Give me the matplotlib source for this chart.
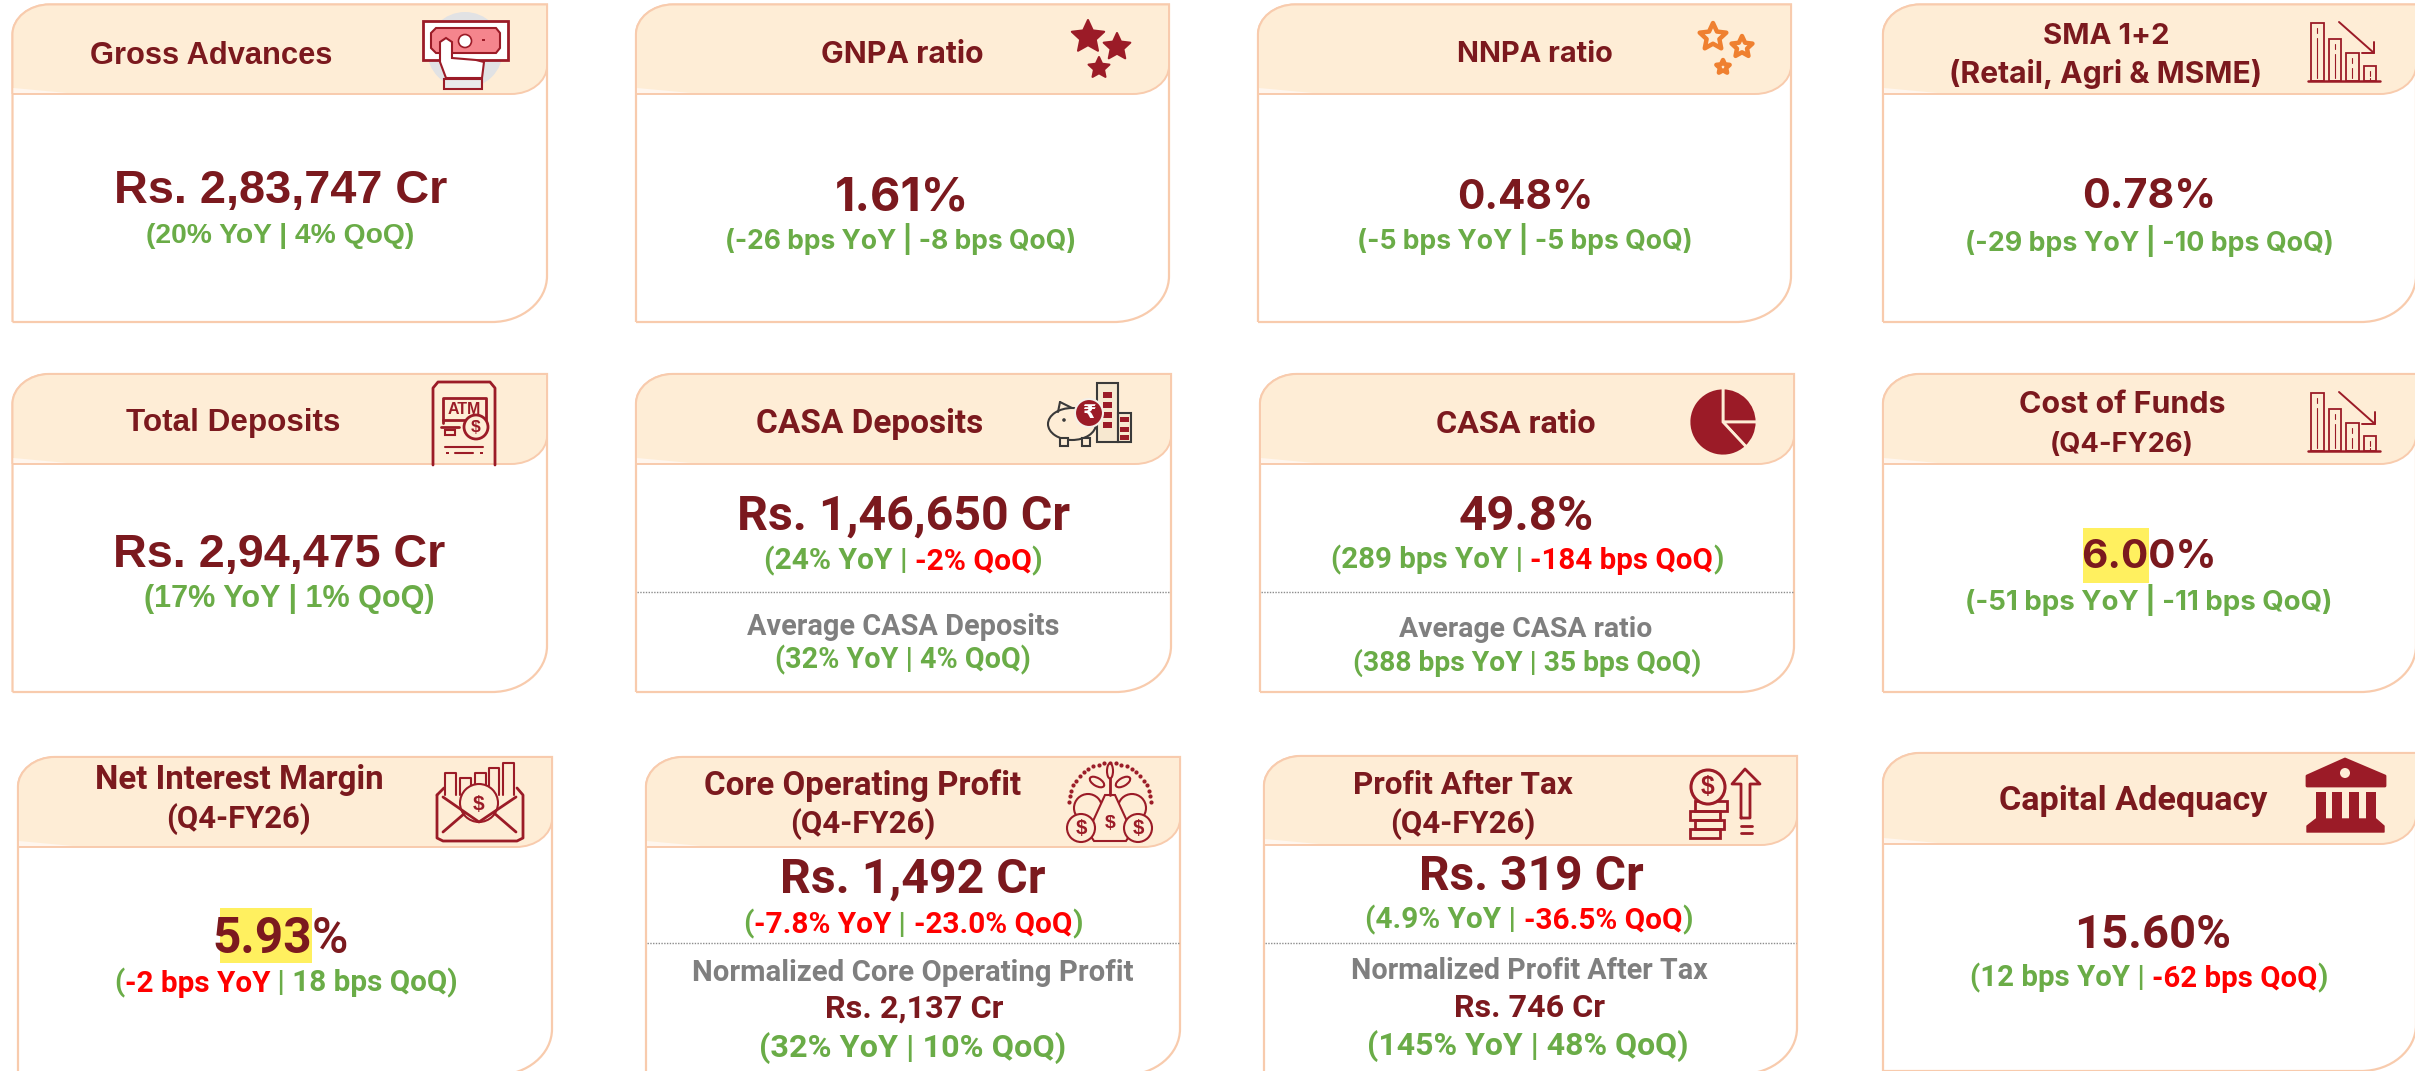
import re
import numpy as np
import matplotlib
matplotlib.use("Agg")
import matplotlib.pyplot as plt
from matplotlib.patches import Circle, Ellipse, PathPatch, Polygon, Rectangle, Wedge
from matplotlib.path import Path

# --- DATA ---

titles = [
    ["Gross Advances"], ["GNPA ratio"], ["NNPA ratio"], ["SMA 1+2", "(Retail, Agri & MSME)"],
    ["Total Deposits"], ["CASA Deposits"], ["CASA ratio"], ["Cost of Funds", "(Q4-FY26)"],
    ["Net Interest Margin", "(Q4-FY26)"], ["Core Operating Profit", "(Q4-FY26)"],
    ["Profit After Tax", "(Q4-FY26)"], ["Capital Adequacy"],
]
values = [
    "Rs. 2,83,747 Cr", "1.61%", "0.48%", "0.78%",
    "Rs. 2,94,475 Cr", "Rs. 1,46,650 Cr", "49.8%", "6.00%",
    "5.93%", "Rs. 1,492 Cr", "Rs. 319 Cr", "15.60%",
]
changes = [
    "(20% YoY | 4% QoQ)", "(-26 bps YoY | -8 bps QoQ)", "(-5 bps YoY | -5 bps QoQ)", "(-29 bps YoY | -10 bps QoQ)",
    "(17% YoY | 1% QoQ)", "(24% YoY | -2% QoQ)", "(289 bps YoY | -184 bps QoQ)", "(-51 bps YoY | -11 bps QoQ)",
    "(-2 bps YoY | 18 bps QoQ)", "(-7.8% YoY | -23.0% QoQ)", "(4.9% YoY | -36.5% QoQ)", "(12 bps YoY | -62 bps QoQ)",
]
adverse = [
    [], [], [], [],
    [], ["-2% QoQ"], ["-184 bps QoQ"], [],
    ["-2 bps YoY"], ["-7.8% YoY", "-23.0% QoQ"], ["-36.5% QoQ"], ["-62 bps QoQ"],
]
second_labels = {5: "Average CASA Deposits", 6: "Average CASA ratio",
                 9: "Normalized Core Operating Profit", 10: "Normalized Profit After Tax"}
second_values = {9: "Rs. 2,137 Cr", 10: "Rs. 746 Cr"}
second_changes = {5: "(32% YoY | 4% QoQ)", 6: "(388 bps YoY | 35 bps QoQ)",
                  9: "(32% YoY | 10% QoQ)", 10: "(145% YoY | 48% QoQ)"}
highlighted = {7: "6.0", 8: "5.93"}

# --- LAYOUT (pixels of the 2415x1071 picture) ---

boxes = [
    (12.5, 547, 4.5, 94, 322), (636, 1169, 4.5, 94, 322), (1258, 1791, 4.5, 94, 322), (1883, 2416, 4.5, 94, 322),
    (12.5, 547, 374, 464, 692), (636, 1171, 374, 464, 692), (1260, 1794, 374, 464, 692), (1883, 2416, 374, 464, 692),
    (18, 552, 757, 847, 1075), (646, 1180, 757, 847, 1075), (1264, 1797, 756, 845, 1074), (1883, 2416, 753, 844, 1071),
]
title_pos = [
    [(211, 53, 233)], [(902, 52, 157)], [(1535, 52, 150)], [(2106, 33, 122), (2106, 72, 301)],
    [(233, 420, 205)], [(870, 421, 218)], [(1516, 421, 153)], [(2122, 402, 199), (2122, 442, 138)],
    [(239, 777, 277), (239, 817, 139)], [(863, 783, 305), (863, 822, 140)],
    [(1463, 783, 211), (1463, 822, 140)], [(2133, 798, 257)],
]
value_pos = [
    (281, 186, 321), (902, 194, 129), (1525, 194, 131), (2149, 193, 129),
    (279, 550, 320), (904, 512, 320), (1526, 512, 130), (2149, 553, 130),
    (286, 935, 131), (913, 875, 255), (1531, 873, 216), (2153, 931, 151),
]
change_pos = [
    (280, 233, 258), (901, 239, 339), (1525, 239, 323), (2149, 241, 355),
    (289, 596, 279), (903, 559, 267), (1527, 558, 377), (2149, 600, 354),
    (286, 981, 329), (913, 922, 325), (1529, 918, 314), (2149, 976, 343),
]
second_label_pos = {5: (903, 625, 299), 6: (1526, 627, 243), 9: (913, 970, 423), 10: (1529, 969, 342)}
second_value_pos = {9: (914, 1006, 171), 10: (1529, 1005, 145)}
second_change_pos = {5: (903, 658, 245), 6: (1527, 661, 334), 9: (913, 1045, 294), 10: (1528, 1043, 308)}
divider_y = {5: 592, 6: 592, 9: 943, 10: 943}
highlight_box = {7: (2083, 2149, 528, 583), 8: (220, 312, 908, 963)}
card_fonts = ["Liberation Sans", "Inter", "Inter", "Inter",
              "Liberation Sans", "Roboto", "Roboto", "Inter",
              "Roboto", "Roboto", "Roboto", "Roboto"]

DARK = "#7B191E"
GREEN = "#6AAC47"
RED = "#FF0000"
GREY = "#7F7F7F"
BORDER = "#F8CBAD"
HEADER = "#FEEDD6"
YELLOW = "#FFF05F"
ICON = "#9B1B27"
ORANGE = "#EF8030"

fig = plt.figure(figsize=(24.15, 10.71), dpi=100)
ax = fig.add_axes([0, 0, 1, 1])
ax.set_xlim(0, 2415)
ax.set_ylim(1071, 0)
ax.axis("off")
renderer = fig.canvas.get_renderer()


# --- HELPERS ---

def text_width(s, size, font, weight="bold"):
    t = ax.text(0, 0, s, fontsize=size, family=font, fontweight=weight)
    w = t.get_window_extent(renderer).width
    t.remove()
    return w


def fit_size(s, width, font, weight="bold"):
    # the reference letters are a bit narrower than these fonts, so go slightly over the width
    return 1.04 * 20 * width / text_width(s, 20, font, weight)


def put_text(s, pos, color, font, weight="bold"):
    cx, cy, width = pos
    size = fit_size(s, width, font, weight)
    # baseline from the middle of the capitals
    y = cy + 0.36 * size / 0.72
    ax.text(cx, y, s, color=color, fontsize=size, family=font, fontweight=weight,
            ha="center", va="baseline", zorder=5)


def put_change(s, bad, pos, font):
    cx, cy, width = pos
    size = fit_size(s, width, font)
    y = cy + 0.36 * size / 0.72
    left = cx - text_width(s + "x", size, font) / 2 + text_width("x", size, font) / 2
    pattern = "(" + "|".join(re.escape(b) for b in bad) + ")" if bad else None
    parts = re.split(pattern, s) if pattern else [s]
    done = ""
    for part in parts:
        if not part:
            continue
        x = left + text_width(done + "x", size, font) - text_width("x", size, font)
        ax.text(x, y, part, color=RED if part in bad else GREEN, fontsize=size, family=font,
                fontweight="bold", ha="left", va="baseline", zorder=5)
        done += part


def shape(x0, x1, y0, y1, tl, br):
    k = 0.55
    rx, ry = tl
    sx, sy = br
    verts = [(x0, y1), (x0, y0 + ry), (x0, y0 + ry * (1 - k)), (x0 + rx * (1 - k), y0), (x0 + rx, y0),
             (x1, y0), (x1, y1 - sy), (x1, y1 - sy * (1 - k)), (x1 - sx * (1 - k), y1), (x1 - sx, y1),
             (x0, y1)]
    codes = [Path.MOVETO, Path.LINETO, Path.CURVE4, Path.CURVE4, Path.CURVE4,
             Path.LINETO, Path.LINETO, Path.CURVE4, Path.CURVE4, Path.CURVE4, Path.LINETO]
    return Path(verts, codes)


def line(xs, ys, color=ICON, lw=1.5):
    ax.plot(xs, ys, color=color, lw=lw, solid_capstyle="round", zorder=4)


def outline(x0, y0, x1, y1, color=ICON, lw=1.5, fill="none"):
    ax.add_patch(Rectangle((x0, y0), x1 - x0, y1 - y0, fc=fill, ec=color, lw=lw, zorder=4))


def solid(x0, y0, x1, y1, color=ICON):
    ax.add_patch(Rectangle((x0, y0), x1 - x0, y1 - y0, fc=color, ec="none", zorder=4))


def star(cx, cy, r, fill, edge, lw=0.0):
    ang = np.deg2rad(np.arange(10) * 36 - 90)
    rad = np.where(np.arange(10) % 2 == 0, r, r * 0.48)
    pts = np.column_stack([cx + rad * np.cos(ang), cy + rad * np.sin(ang)])
    ax.add_patch(Polygon(pts, closed=True, fc=fill, ec=edge, lw=lw, joinstyle="round", zorder=4))


def coin(cx, cy, r, lw=1.5, sign=True):
    ax.add_patch(Circle((cx, cy), r, fc=HEADER, ec=ICON, lw=lw, zorder=4))
    if sign:
        ax.text(cx, cy, "$", color=ICON, fontsize=r * 1.05, fontweight="bold", family="Liberation Sans",
                ha="center", va="center", zorder=5)


# --- ICONS ---

def icon_money():
    ax.add_patch(Circle((465, 50), 38, fc="#E1E2E4", ec="none", zorder=3))
    outline(423, 21, 508, 60, lw=2, fill="white")
    ax.add_patch(Polygon([(436, 28), (496, 28), (500, 33), (500, 48), (496, 53), (436, 53), (431, 48), (431, 33)],
                         fc="#F5858D", ec=ICON, lw=1.5, zorder=4))
    ax.add_patch(Ellipse((465, 41), 13, 13, fc="white", ec=ICON, lw=1.2, zorder=4))
    solid(482, 39, 485, 41)
    ax.add_patch(Polygon([(440, 62), (440, 42), (446, 38), (452, 42), (452, 58), (476, 60), (484, 62),
                          (482, 78), (446, 78)], fc="white", ec=ICON, lw=1.5, zorder=4))
    outline(444, 79, 482, 89, lw=1.5, fill="#E9E9EA")


def icon_pig():
    for x0, x1, y0 in [(1097, 1118, 383), (1118, 1131, 413)]:
        outline(x0, y0, x1, 442, color="#3A3A3A", lw=1.5, fill="#F7E8D0")
    for y in [392, 402, 412, 422]:
        solid(1103, y, 1112, y + 6)
    for y in [417, 427, 435]:
        solid(1120, y, 1129, y + 5)
    ax.add_patch(Ellipse((1072, 424), 48, 32, fc=HEADER, ec="#3A3A3A", lw=1.5, zorder=4))
    line([1058, 1060], [412, 402], color="#3A3A3A")
    line([1060, 1072], [402, 408], color="#3A3A3A")
    ax.add_patch(Circle((1064, 420), 1.8, fc="#3A3A3A", ec="none", zorder=5))
    outline(1060, 438, 1068, 446, color="#3A3A3A", fill=HEADER)
    outline(1082, 438, 1090, 446, color="#3A3A3A", fill=HEADER)
    ax.add_patch(Circle((1089, 413), 14, fc=ICON, ec="#F5F0E8", lw=1.5, zorder=5))
    ax.text(1089, 413, "₹", color="white", fontsize=14, fontweight="bold", family="DejaVu Sans",
            ha="center", va="center", zorder=6)


def icon_pie():
    for t0, t1 in [(270, 360), (0, 47), (47, 270)]:
        ax.add_patch(Wedge((1723, 422), 34, t0, t1, fc=ICON, ec=HEADER, lw=2, zorder=4))


def icon_bars(x_off, y_base, heights):
    for i, h in enumerate(heights):
        x0 = x_off + i * 17.5
        outline(x0, y_base - h, x0 + 12.5, y_base, lw=1.3)
        line([x0 + 6, x0 + 6], [y_base - h + 5, y_base - h + 10], lw=0.8)
        line([x0 + 6, x0 + 6], [y_base - h + 15, y_base - 3], lw=0.8)
    line([x_off - 3, x_off + 69], [y_base, y_base], lw=1.8)


def icon_atm():
    line([433, 433, 438, 490, 495, 495], [465, 388, 382, 382, 388, 465], lw=2)
    line([443, 443, 486, 486], [423, 398, 398, 420], lw=2)
    line([443, 465], [420, 420], lw=2)
    ax.text(464, 409, "ATM", color=ICON, fontsize=11.5, fontweight="bold", family="Liberation Sans",
            ha="center", va="center", zorder=5)
    coin(476, 427, 12, lw=2)
    line([441, 459], [427, 427], lw=2)
    outline(445, 430, 455, 435, lw=1.5)
    line([445, 483], [447, 447], lw=1.5)
    line([455, 473], [453, 453], lw=1.5)
    solid(446, 452, 449, 454)
    solid(480, 452, 483, 454)


def icon_envelope():
    for x0, x1, y0 in [(445, 456, 773), (460, 471, 778), (475, 486, 773), (489, 499, 768), (503, 514, 763)]:
        line([x0, x0, x1, x1], [795, y0, y0, 795], lw=1.5)
    ax.add_patch(Circle((479, 803), 19, fc=HEADER, ec=ICON, lw=1.5, zorder=4))
    ax.text(479, 804, "$", color=ICON, fontsize=15, fontweight="bold", family="Liberation Sans",
            ha="center", va="center", zorder=5)
    line([437, 437, 443, 517, 523, 523, 517], [795, 838, 841, 841, 838, 795, 788], lw=2)
    line([437, 444], [795, 788], lw=2)
    line([443, 479, 516], [797, 822, 797], lw=2)
    line([443, 465], [832, 813], lw=2)
    line([516, 494], [832, 813], lw=2)
    ax.add_patch(Rectangle((470, 812), 18, 6, fc=HEADER, ec="none", zorder=3.5))


def icon_growth():
    ang = np.deg2rad(np.arange(-178, 0, 8))
    ax.scatter(1110 + 41 * np.cos(ang), 803 + 40 * np.sin(ang), s=4, color=ICON, zorder=4)
    coin(1088, 808, 14, sign=False)
    coin(1132, 808, 14, sign=False)
    ax.add_patch(Polygon([(1105, 795), (1115, 795), (1132, 832), (1126, 841), (1094, 841), (1088, 832)],
                         fc=HEADER, ec=ICON, lw=1.5, zorder=4))
    ax.text(1110, 823, "$", color=ICON, fontsize=14, fontweight="bold", family="Liberation Sans",
            ha="center", va="center", zorder=5)
    coin(1081, 828, 14)
    coin(1138, 828, 14)
    line([1110, 1110], [795, 770], lw=2)
    ax.add_patch(Ellipse((1110, 771), 6, 15, fc=HEADER, ec=ICON, lw=1.5, zorder=4))
    ax.add_patch(Ellipse((1097, 782), 16, 8, angle=30, fc=HEADER, ec=ICON, lw=1.5, zorder=4))
    ax.add_patch(Ellipse((1123, 782), 16, 8, angle=-30, fc=HEADER, ec=ICON, lw=1.5, zorder=4))


def icon_coins():
    for x0, x1, y0, y1 in [(1695, 1727, 801, 811), (1690, 1720, 811, 820),
                           (1695, 1724, 820, 829), (1690, 1720, 829, 838)]:
        outline(x0, y0, x1, y1, lw=2)
    coin(1708, 787, 17, lw=2.2)
    line([1741, 1741, 1732, 1745, 1760, 1750, 1750, 1741], [818, 784, 784, 769, 784, 784, 818, 818], lw=2)
    line([1741, 1752], [826, 826], lw=2)
    line([1741, 1752], [833, 833], lw=2)


def icon_bank():
    ax.add_patch(Polygon([(2307, 776), (2345, 759), (2385, 776), (2385, 786), (2307, 786)],
                         fc=ICON, ec=ICON, lw=2, joinstyle="round", zorder=4))
    ax.add_patch(Circle((2345, 773), 5, fc=HEADER, ec="none", zorder=5))
    for x0 in [2316, 2332, 2349, 2366]:
        solid(x0, 792, x0 + 10, 819)
    ax.add_patch(Polygon([(2316, 819), (2376, 819), (2384, 826), (2384, 832), (2307, 832), (2307, 826)],
                         fc=ICON, ec=ICON, lw=1, joinstyle="round", zorder=4))


# --- CARDS ---

for i, (x0, x1, y0, yh, y1) in enumerate(boxes):
    font = card_fonts[i]
    ax.add_patch(PathPatch(shape(x0, x1, y0, y1, (37, 30), (55, 46)), fc="white", ec=BORDER, lw=1.6, zorder=1))
    ax.add_patch(PathPatch(shape(x0, x1, y0, yh, (37, 30), (36, 28)), fc=HEADER, ec=BORDER, lw=1.4, zorder=2))
    # paler sliver at the lower left of the header
    ax.add_patch(Polygon([(x0 + 1, yh - 6), (x0 + 55, yh - 1), (x0 + 1, yh - 1)], fc="#FFF6EE", ec="none", zorder=2.5))

    for s, pos in zip(titles[i], title_pos[i]):
        put_text(s, pos, DARK, font)

    if i in highlight_box:
        hx0, hx1, hy0, hy1 = highlight_box[i]
        ax.add_patch(Rectangle((hx0, hy0), hx1 - hx0, hy1 - hy0, fc=YELLOW, ec="none", zorder=3))

    if i == 8:
        # the per cent sign is not bold on this card
        hx1 = highlight_box[i][1]
        size = fit_size(values[i], value_pos[i][2], font)
        y = value_pos[i][1] + 0.36 * size / 0.72
        ax.text(hx1, y, highlighted[i], color=DARK, fontsize=size, family=font, fontweight="bold",
                ha="right", va="baseline", zorder=5)
        ax.text(hx1, y, "%", color=DARK, fontsize=size, family=font, fontweight="medium",
                ha="left", va="baseline", zorder=5)
    else:
        put_text(values[i], value_pos[i], DARK, font)

    put_change(changes[i], adverse[i], change_pos[i], font)

    if i in divider_y:
        ax.plot([x0 + 1, x1 - 1], [divider_y[i], divider_y[i]], color="#8C8C8C", lw=1, ls=(0, (1, 1)), zorder=3)
        put_text(second_labels[i], second_label_pos[i], GREY, font)
        put_change(second_changes[i], [], second_change_pos[i], font)
    if i in second_values:
        put_text(second_values[i], second_value_pos[i], DARK, font)

icon_money()
for c in [(1088, 37, 17), (1117, 47, 14), (1099, 68, 11)]:
    star(*c, ICON, ICON, lw=1.5)
for c in [(1713, 37, 14), (1742, 47, 11), (1723, 67, 7)]:
    star(*c, "none", ORANGE, lw=3.2)
icon_bars(2311, 81, [58, 42, 28, 15])
icon_atm()
icon_pig()
icon_pie()
icon_bars(2311, 451, [58, 42, 28, 15])
line([2339, 2374], [22, 53], lw=1.4)
line([2362, 2374, 2374], [53, 53, 42], lw=1.4)
line([2339, 2375], [392, 424], lw=1.4)
line([2362, 2375, 2375], [424, 424, 412], lw=1.4)
icon_envelope()
icon_growth()
icon_coins()
icon_bank()

fig.savefig("out.png", dpi=100, facecolor="white")
